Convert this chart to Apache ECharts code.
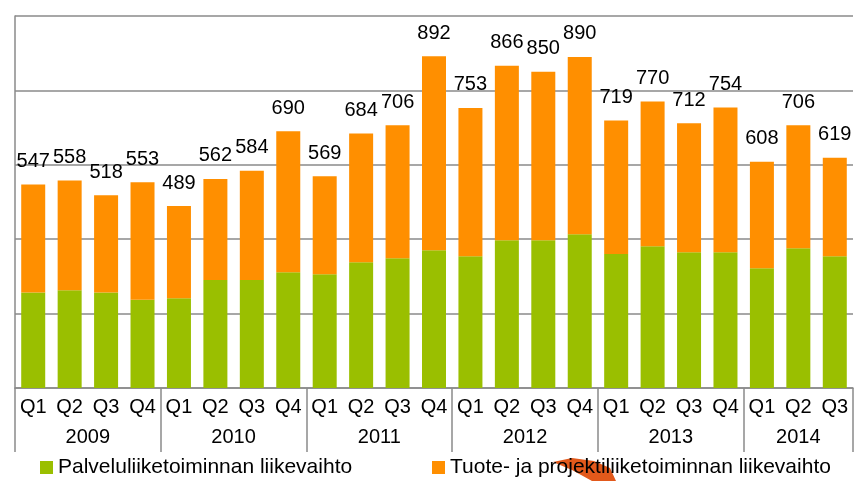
<!DOCTYPE html>
<html>
<head>
<meta charset="utf-8">
<script src="https://cdn.jsdelivr.net/npm/echarts@6/dist/echarts.min.js"></script>
<style>
  html, body { margin: 0; padding: 0; background: #fff; }
  #chart { width: 860px; height: 481px; }
</style>
</head>
<body>
<div id="chart"></div>
<script>
  // neljännekset ja vuodet
  const quarters = ['Q1', 'Q2', 'Q3', 'Q4', 'Q1', 'Q2', 'Q3', 'Q4', 'Q1', 'Q2', 'Q3', 'Q4',
    'Q1', 'Q2', 'Q3', 'Q4', 'Q1', 'Q2', 'Q3', 'Q4', 'Q1', 'Q2', 'Q3']
  const years = ['2009', '2010', '2011', '2012', '2013', '2014']
  const quartersPerYear = [4, 4, 4, 4, 4, 3]

  const totals = [547, 558, 518, 553, 489, 562, 584, 690, 569, 684, 706, 892,
    753, 866, 850, 890, 719, 770, 712, 754, 608, 706, 619]
  const palvelu = [257, 263, 257, 237, 241, 290, 290, 311, 306, 338, 349, 370,
    354, 397, 397, 413, 360, 381, 365, 365, 322, 376, 354]
  const tuote = [290, 295, 261, 316, 248, 272, 294, 379, 263, 346, 357, 522,
    399, 469, 453, 477, 359, 389, 347, 389, 286, 330, 265]

  const seriesNames = ['Palveluliiketoiminnan liikevaihto', 'Tuote- ja projektiliiketoiminnan liikevaihto']

  // vuosien rajat ja keskikohdat
  const yearBounds = [0]
  const yearMids = []
  quartersPerYear.forEach((n) => {
    const start = yearBounds[yearBounds.length - 1]
    yearMids.push(start + n / 2)
    yearBounds.push(start + n)
  })

  const font = 'Liberation Sans, Arial, sans-serif'
  const gray = '#8a8a8a'

  const legendBase = {
    top: 457,
    padding: 0,
    itemWidth: 13,
    itemHeight: 13,
    itemGap: 4,
    icon: 'rect',
    textStyle: { fontSize: 21, color: '#000', fontFamily: font },
  }

  const chart = echarts.init(document.getElementById('chart'))
  chart.setOption({
    animation: false,
    textStyle: { fontFamily: font },
    grid: { left: 15, right: 7, top: 16, bottom: 93 },
    legend: [
      Object.assign({}, legendBase, { left: 40, data: [seriesNames[0]] }),
      Object.assign({}, legendBase, { left: 432, data: [seriesNames[1]] }),
    ],
    graphic: [
      {
        type: 'polygon',
        z: 0,
        shape: {
          points: [[553, 462], [572, 458], [594, 461], [610, 468], [616, 481], [592, 481], [572, 470]],
        },
        style: { fill: '#e2591b' },
      },
    ],
    xAxis: [
      {
        type: 'category',
        data: quarters,
        axisLine: { lineStyle: { color: gray, width: 1.5 } },
        axisTick: { show: false },
        axisLabel: { fontSize: 20, color: '#000', margin: 9 },
      },
      {
        type: 'value',
        min: 0,
        max: 23,
        position: 'bottom',
        axisLine: { show: false },
        splitLine: { show: false },
        axisTick: {
          show: true,
          length: 64,
          customValues: yearBounds,
          lineStyle: { color: gray, width: 1.5 },
        },
        axisLabel: {
          fontSize: 20,
          color: '#000',
          margin: 39,
          customValues: yearMids,
          formatter: (v) => years[yearMids.indexOf(v)],
        },
      },
    ],
    yAxis: {
      type: 'value',
      min: 0,
      max: 1000,
      interval: 200,
      axisLabel: { show: false },
      axisTick: { show: false },
      axisLine: { show: true, lineStyle: { color: gray, width: 1.5 } },
      splitLine: { lineStyle: { color: gray, width: 1.5 } },
    },
    series: [
      {
        name: seriesNames[0],
        type: 'bar',
        stack: 'total',
        barWidth: 24,
        itemStyle: { color: '#9abf00' },
        data: palvelu,
      },
      {
        name: seriesNames[1],
        type: 'bar',
        stack: 'total',
        barWidth: 24,
        itemStyle: { color: '#ff8f00' },
        label: {
          show: true,
          position: 'top',
          distance: 13,
          fontSize: 20,
          color: '#000',
          formatter: (p) => totals[p.dataIndex],
        },
        data: tuote,
      },
    ],
  })
</script>
</body>
</html>
